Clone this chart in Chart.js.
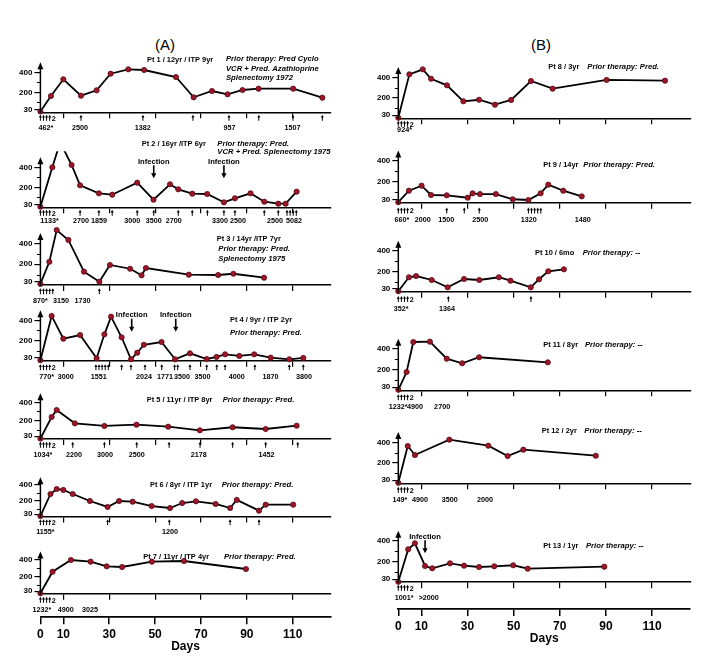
<!DOCTYPE html>
<html><head><meta charset="utf-8">
<script src="https://cdn.jsdelivr.net/npm/chart.js@4.4.0/dist/chart.umd.min.js"></script>
<style>
html,body{margin:0;padding:0;background:#fff;}
#wrap{position:relative;width:710px;height:670px;overflow:hidden;background:#fff;}
canvas{position:absolute;}
.hdr{position:absolute;width:60px;text-align:center;font:15px "Liberation Sans",Arial,sans-serif;color:#000;line-height:17px;}
</style></head><body>
<div id="wrap">
<div class="hdr" style="left:135px;top:36px">(A)</div>
<div class="hdr" style="left:511px;top:36px">(B)</div>
</div>
<script>
// ---------- shared ticks ----------
const yTickValues = [30, 200, 400];
const yMinorTicks = [100, 300];
const xTickDays = [10, 30, 50, 70, 90, 110];
const bottomTickDays = [0, 10, 30, 50, 70, 90, 110];

// ---------- Pt 1 ----------
const pt1Days   = [0,4.6,10,17.7,24.5,30.6,38.3,45.2,59.1,66.8,74.8,81.6,88.1,95.1,110.2,122.9];
const pt1Counts = [8,163,330,166,220,386,430,423,353,150,213,180,223,236,236,146];
const pt1Doses  = [17.7,44.7,66.5,82.2,95.2,110.1,122.9];
const pt1Groups = [[0,4,'2']];
const pt1Labels = [['462*',2.4],['2500',17.3],['1382',44.6],['957',82.4],['1507',109.9]];
const pt1Infections = [];
const pt1Title = ['Pt 1 / 12yr / ITP 9yr','Prior therapy: Pred Cyclo','VCR + Pred. Azathioprine','Splenectomy 1972'];

// ---------- Pt 2 ----------
const pt2Days   = [0,5.2,8.6,13.6,17.3,25.5,31.3,42.2,49.3,56.5,60.1,66.2,72.7,80,84.8,91.6,97.6,103.7,106.9,111.7];
const pt2Counts = [5,400,650,423,220,140,126,246,76,230,180,136,133,50,90,140,56,36,36,156];
const pt2Doses  = [17.3,25.5,31.3,42.2,49.4,60.1,66.2,72.8,80,84.8,97.6,103.7];
const pt2Groups = [[0,4,'2'],[107.5,4,'']];
const pt2Labels = [['1133*',4],['2700',17.7],['1859',25.5],['3000',40],['3500',49.4],['2700',58.1],['3300',78.3],['2500',86.1],['2500',102.3],['5082',110.6]];
const pt2Infections = [49.4, 80];
const pt2Title = ['Pt 2 / 16yr /ITP 6yr','Prior therapy: Pred.','VCR + Pred. Splenectomy 1975'];

// ---------- Pt 3 ----------
const pt3Days   = [0,3.9,7.1,12.2,19,25.7,30.3,39.1,44.1,46,64.7,77.5,84.1,97.5];
const pt3Counts = [10,223,527,432,128,32,192,156,93,163,99,96,108,70];
const pt3Doses  = [25.7];
const pt3Groups = [[0,5,'']];
const pt3Labels = [['870*',0],['3150',9],['1730',18.4]];
const pt3Infections = [];
const pt3Title = ['Pt 3 / 14yr /ITP 7yr','Prior therapy: Pred.','Splenectomy 1975'];

// ---------- Pt 4 ----------
const pt4Days   = [0,4.9,10,17.3,24.5,27.9,30.8,35.4,39.5,42.2,45.1,52.8,58.7,65.2,72.5,76.8,80.5,86.7,93.2,100.4,108.5,114.6];
const pt4Counts = [5,443,218,254,24,261,436,232,14,79,158,185,14,73,17,37,63,47,63,30,14,27];
const pt4Doses  = [35.4,39.5,45.6,52.9,65.2,72.5,76.9,80.5,93.5,108.5,114.6];
const pt4Groups = [[0,4,'2'],[24.2,5,''],[58.5,2,'']];
const pt4Labels = [['770*',2.7],['3000',11],['1551',25.4],['2024',45.2],['1771',54.3],['3500',61.7],['3500',70.7],['4000',85.6],['1870',100.3],['3800',114.9]];
const pt4Infections = [39.8, 59];
const pt4Title = ['Pt 4 / 9yr / ITP 2yr','Prior therapy: Pred.'];

// ---------- Pt 5 ----------
const pt5Days   = [0,4.9,7.1,15,27.9,41.9,55.7,69.5,83.8,98.2,111.7];
const pt5Counts = [5,240,316,171,142,156,134,95,128,109,145];
const pt5Doses  = [14.1,27.9,42,56.1,69.6,83.8,98.2,112.2];
const pt5Groups = [[0,4,'2']];
const pt5Labels = [['1034*',1.1],['2200',14.6],['3000',28.2],['2500',42],['2178',69],['1452',98.6]];
const pt5Infections = [];
const pt5Title = ['Pt 5 / 11yr / ITP 8yr','Prior therapy: Pred.'];

// ---------- Pt 6 ----------
const pt6Days   = [0,4.4,7.1,10,14.1,21.6,29.3,34.3,40.2,48.5,56.5,61.8,67.8,76.4,82.7,85.6,95.3,98.2,110.2];
const pt6Counts = [5,286,349,337,286,197,121,197,188,133,108,171,193,159,108,210,74,150,150];
const pt6Doses  = [29.3,56.2,82.7,95.3];
const pt6Groups = [[0,4,'2']];
const pt6Labels = [['1155*',2.2],['1200',56.5]];
const pt6Infections = [];
const pt6Title = ['Pt 6 / 8yr / ITP 1yr','Prior therapy: Pred.'];

// ---------- Pt 7 ----------
const pt7Days   = [0,5.3,13.3,21.9,28.9,35.6,48.6,62.6,89.6];
const pt7Counts = [5,261,400,380,325,317,380,388,293];
const pt7Doses  = [];
const pt7Groups = [[0,4,'2']];
const pt7Labels = [['1232*',0.7],['4900',11],['3025',21.6]];
const pt7Infections = [];
const pt7Title = ['Pt 7 / 11yr / ITP 4yr','Prior therapy: Pred.'];

// ---------- Pt 8 ----------
const pt8Days   = [0,4.8,10.6,14.2,21.1,28.2,35,41.9,48.9,57.5,66.9,90.3,115.6];
const pt8Counts = [5,429,478,386,322,166,181,133,179,364,289,374,367];
const pt8Doses  = [];
const pt8Groups = [[0,4,'2']];
const pt8Labels = [['924*',2.7]];
const pt8Infections = [];
const pt8Title = ['Pt 8 / 3yr','Prior therapy: Pred.'];

// ---------- Pt 9 ----------
const pt9Days   = [0,4.6,10.1,14.2,21,30.1,32.2,35.4,42.3,49.6,56.4,61.7,65,71.5,79.5];
const pt9Counts = [5,115,163,74,71,48,90,83,83,33,26,90,173,115,61];
const pt9Doses  = [21,28.6,35.1];
const pt9Groups = [[0,4,'2'],[56.4,5,'']];
const pt9Labels = [['660*',1.6],['2000',10.6],['1500',20.8],['2500',35.5],['1320',56.5],['1480',80]];
const pt9Infections = [];
const pt9Title = ['Pt 9 / 14yr','Prior therapy: Pred.'];

// ---------- Pt 10 ----------
const pt10Days   = [0,4.6,7.7,14.5,21.4,28.5,35.1,43.6,48.6,57.4,61,65,71.8];
const pt10Counts = [5,142,154,115,43,125,115,142,108,43,122,201,220];
const pt10Doses  = [21.7,57.5];
const pt10Groups = [[0,4,'2']];
const pt10Labels = [['352*',1.2],['1364',21.1]];
const pt10Infections = [];
const pt10Title = ['Pt 10 / 6mo','Prior therapy: --'];

// ---------- Pt 11 ----------
const pt11Days   = [0,3.6,6.5,13.7,21,27.7,35,64.8];
const pt11Counts = [5,177,468,471,306,262,320,271];
const pt11Doses  = [];
const pt11Groups = [[0,4,'2']];
const pt11Labels = [['1232*',-0.1],['4900',7.2],['2700',19]];
const pt11Infections = [];
const pt11Title = ['Pt 11 / 8yr','Prior therapy: --'];

// ---------- Pt 12 ----------
const pt12Days   = [0,4.1,7.2,22.1,39,47.4,54.2,85.6];
const pt12Counts = [5,364,276,426,367,266,328,269];
const pt12Doses  = [];
const pt12Groups = [[0,4,'2']];
const pt12Labels = [['149*',0.7],['4900',9.4],['3500',22.3],['2000',37.6]];
const pt12Infections = [];
const pt12Title = ['Pt 12 / 2yr','Prior therapy: --'];

// ---------- Pt 13 ----------
const pt13Days   = [0,4.3,7.2,11.6,14.7,22.4,28.5,35,41.6,49.8,56.1,89.3];
const pt13Counts = [5,320,378,158,136,184,161,148,155,165,132,151];
const pt13Doses  = [];
const pt13Groups = [[0,4,'2']];
const pt13Labels = [['1001*',2.5],['>2000',13.2]];
const pt13Infections = [11.6];
const pt13Title = ['Pt 13 / 1yr','Prior therapy: --'];

// ---------- layout (page pixels) ----------
const COLS = {
  A: {left: 0,   width: 340, axisX: 40.4,  pxPerDay: 2.294},
  B: {left: 355, width: 355, axisX: 398.3, pxPerDay: 2.307}
};
const X_MAX = 126.5, Y_TOP = 560, Y_ARROW = 500, PAD_TOP = 24, X_BOX = 26;

const panels = [
  {col:'A', p0:112.3, p400:72.3,  labelDy:15,   d:[pt1Days,pt1Counts,pt1Doses,pt1Groups,pt1Labels,pt1Infections,pt1Title], titleAt:[[147,60],[226,59],[226,68.3],[226,77.7]]},
  {col:'A', p0:207.3, p400:167.3, labelDy:13.5, d:[pt2Days,pt2Counts,pt2Doses,pt2Groups,pt2Labels,pt2Infections,pt2Title], titleAt:[[141.7,143.3],[217.3,143.3],[217.3,151.7]]},
  {col:'A', p0:285,   p400:243.3, labelDy:15.7, d:[pt3Days,pt3Counts,pt3Doses,pt3Groups,pt3Labels,pt3Infections,pt3Title], titleAt:[[216.7,238.3],[218.3,249],[218.3,258.3]]},
  {col:'A', p0:360.7, p400:320.3, labelDy:16,   d:[pt4Days,pt4Counts,pt4Doses,pt4Groups,pt4Labels,pt4Infections,pt4Title], titleAt:[[230,320],[230,332.3]]},
  {col:'A', p0:439,   p400:402.3, labelDy:15.3, d:[pt5Days,pt5Counts,pt5Doses,pt5Groups,pt5Labels,pt5Infections,pt5Title], titleAt:[[146.7,400.2],[222.7,400.2]]},
  {col:'A', p0:516.5, p400:485,   labelDy:15.2, d:[pt6Days,pt6Counts,pt6Doses,pt6Groups,pt6Labels,pt6Infections,pt6Title], titleAt:[[150,484.5],[221.7,484.5]]},
  {col:'A', p0:593.7, p400:560,   labelDy:15.6, d:[pt7Days,pt7Counts,pt7Doses,pt7Groups,pt7Labels,pt7Infections,pt7Title], titleAt:[[143.3,556.3],[224,556.3]]},
  {col:'B', p0:118.3, p400:77.3,  labelDy:11,   d:[pt8Days,pt8Counts,pt8Doses,pt8Groups,pt8Labels,pt8Infections,pt8Title], titleAt:[[548.3,66.7],[587.3,66.7]]},
  {col:'B', p0:202.7, p400:161,   labelDy:17.3, d:[pt9Days,pt9Counts,pt9Doses,pt9Groups,pt9Labels,pt9Infections,pt9Title], titleAt:[[543.3,165],[583.3,165]]},
  {col:'B', p0:291.7, p400:251,   labelDy:16.7, d:[pt10Days,pt10Counts,pt10Doses,pt10Groups,pt10Labels,pt10Infections,pt10Title], titleAt:[[535,252.3],[582.7,252.3]]},
  {col:'B', p0:390.3, p400:349,   labelDy:16.4, d:[pt11Days,pt11Counts,pt11Doses,pt11Groups,pt11Labels,pt11Infections,pt11Title], titleAt:[[543.3,345],[585,345]]},
  {col:'B', p0:483.3, p400:442.3, labelDy:16,   d:[pt12Days,pt12Counts,pt12Doses,pt12Groups,pt12Labels,pt12Infections,pt12Title], titleAt:[[541.7,430.7],[584.3,430.7]]},
  {col:'B', p0:582.3, p400:541,   labelDy:15,   d:[pt13Days,pt13Counts,pt13Doses,pt13Groups,pt13Labels,pt13Infections,pt13Title], titleAt:[[543.3,546],[586,546]]}
];

Chart.defaults.font.family = '"Liberation Sans", Arial, Helvetica, sans-serif';
Chart.defaults.color = '#000';

const wrap = document.getElementById('wrap');
const FONT_B = 'bold 8px "Liberation Sans", Arial, sans-serif';
const FONT_I = 'italic bold 8px "Liberation Sans", Arial, sans-serif';

function drawText(ctx, s, x, y, font, align, sx) {
  ctx.save();
  ctx.font = font; ctx.textAlign = align; ctx.textBaseline = 'middle';
  ctx.translate(x, y); ctx.scale(sx, 1); ctx.fillText(s, 0, 0);
  ctx.restore();
}
function upArrow(ctx, x, tip, len) {
  ctx.lineWidth = 1;
  ctx.beginPath(); ctx.moveTo(x, tip + 1.5); ctx.lineTo(x, tip + len); ctx.stroke();
  ctx.beginPath(); ctx.moveTo(x, tip); ctx.lineTo(x - 1.5, tip + 2.8); ctx.lineTo(x + 1.5, tip + 2.8); ctx.closePath(); ctx.fill();
}
function downArrow(ctx, x, y0, tip) {
  ctx.lineWidth = 1.6;
  ctx.beginPath(); ctx.moveTo(x, y0); ctx.lineTo(x, tip - 3); ctx.stroke();
  ctx.beginPath(); ctx.moveTo(x, tip); ctx.lineTo(x - 2.6, tip - 5); ctx.lineTo(x + 2.6, tip - 5); ctx.closePath(); ctx.fill();
}

function makeDecor(p, canvasLeft, canvasTop) {
  const [days, counts, doses, groups, labels, infections, title] = p.d;
  return {
    id: 'decor',
    afterDraw(chart) {
      const ctx = chart.ctx, xs = chart.scales.x, ys = chart.scales.y;
      const X = d => xs.getPixelForValue(d), Y = v => ys.getPixelForValue(v);
      const base = Y(0), ax = chart.chartArea.left;
      ctx.save();
      ctx.fillStyle = '#000'; ctx.strokeStyle = '#000';
      // y axis with arrow head
      const tip = Y(Y_ARROW);
      ctx.lineWidth = 1.5;
      ctx.beginPath(); ctx.moveTo(ax, base + 0.8); ctx.lineTo(ax, tip + 5); ctx.stroke();
      ctx.beginPath(); ctx.moveTo(ax, tip); ctx.lineTo(ax - 3, tip + 7); ctx.lineTo(ax + 3, tip + 7); ctx.closePath(); ctx.fill();
      ctx.lineWidth = 1;
      yMinorTicks.forEach(v => { const y = Math.round(Y(v)) + 0.5; ctx.beginPath(); ctx.moveTo(ax - 3.5, y); ctx.lineTo(ax, y); ctx.stroke(); });
      // dose arrows
      const aTip = base + Math.max(2.5, p.labelDy - 12.5);
      doses.forEach(d => upArrow(ctx, X(d), aTip, 6));
      groups.forEach(([d, n, suf]) => {
        const x0 = X(d);
        for (let k = 0; k < n; k++) upArrow(ctx, x0 + k * 3.1, aTip, 6);
        if (suf) drawText(ctx, suf, x0 + n * 3.1 - 1, aTip + 3.5, FONT_B, 'left', 0.9);
      });
      labels.forEach(([t, d]) => drawText(ctx, t, X(d), base + p.labelDy, FONT_B, 'center', 0.9));
      infections.forEach(d => {
        drawText(ctx, 'Infection', X(d), base - 46, FONT_B, 'center', 0.95);
        downArrow(ctx, X(d), base - 42, base - 29);
      });
      title.forEach((t, i) => {
        const [px, py] = p.titleAt[i];
        drawText(ctx, t, px - canvasLeft, py - canvasTop, i === 0 ? FONT_B : FONT_I, 'left', i === 0 ? 0.93 : 0.96);
      });
      ctx.restore();
    }
  };
}

function buildPanel(p) {
  const c = COLS[p.col];
  const [days, counts] = p.d;
  const ppu = (p.p0 - p.p400) / 400;
  const chartH = Y_TOP * ppu;
  const chartTopPage = p.p0 - chartH;
  const canvasTop = Math.floor(chartTopPage - PAD_TOP);
  const padTop = chartTopPage - canvasTop;
  const height = Math.ceil(padTop + chartH + X_BOX + 1);
  const padBottom = height - padTop - chartH - X_BOX;
  const chartLeft = c.axisX - c.left;
  const padRight = c.width - (chartLeft + X_MAX * c.pxPerDay);
  const cv = document.createElement('canvas');
  cv.width = c.width; cv.height = height;
  cv.style.left = c.left + 'px'; cv.style.top = canvasTop + 'px';
  cv.style.width = c.width + 'px'; cv.style.height = height + 'px';
  wrap.appendChild(cv);
  new Chart(cv, {
    type: 'line',
    data: { datasets: [{
      data: days.map((d, i) => ({x: d, y: counts[i]})),
      borderColor: '#000', borderWidth: 1.8, tension: 0,
      pointRadius: 2.6, pointBackgroundColor: '#9c1628', pointBorderColor: '#560a14', pointBorderWidth: 0.8,
      clip: {left: 8, right: 8, top: 0, bottom: 8}
    }]},
    options: {
      responsive: false, animation: false, events: [],
      layout: {autoPadding: false, padding: {left: 0, right: padRight, top: padTop, bottom: padBottom}},
      plugins: {legend: {display: false}, tooltip: {enabled: false}},
      scales: {
        x: {type: 'linear', min: 0, max: X_MAX,
            afterBuildTicks: s => { s.ticks = xTickDays.map(v => ({value: v})); },
            afterFit: s => { s.height = X_BOX; },
            ticks: {display: false},
            grid: {drawOnChartArea: false, drawTicks: true, tickLength: 6, color: '#000', lineWidth: 1.2},
            border: {display: true, color: '#000', width: 1.6}},
        y: {type: 'linear', min: 0, max: Y_TOP,
            afterBuildTicks: s => { s.ticks = yTickValues.map(v => ({value: v})); },
            afterFit: s => { s.width = chartLeft; },
            ticks: {font: {size: 8, weight: 'bold'}, color: '#000', padding: 2, autoSkip: false, callback: v => String(v)},
            grid: {drawOnChartArea: false, drawTicks: true, tickLength: 6, color: '#000', lineWidth: 1.2},
            border: {display: false}}
      }
    },
    plugins: [makeDecor(p, c.left, canvasTop)]
  });
}

function buildDaysAxis(col, axisY) {
  const c = COLS[col];
  const canvasTop = Math.floor(axisY) - 20;
  const boxH = 42;
  const height = Math.ceil(axisY - canvasTop + boxH);
  const padBottom = height - (axisY - canvasTop) - boxH;
  const chartLeft = c.axisX - c.left;
  const padRight = c.width - (chartLeft + X_MAX * c.pxPerDay);
  const cv = document.createElement('canvas');
  cv.width = c.width; cv.height = height;
  cv.style.left = c.left + 'px'; cv.style.top = canvasTop + 'px';
  cv.style.width = c.width + 'px'; cv.style.height = height + 'px';
  wrap.appendChild(cv);
  new Chart(cv, {
    type: 'scatter',
    data: {datasets: []},
    options: {
      responsive: false, animation: false, events: [],
      layout: {autoPadding: false, padding: {left: chartLeft, right: padRight, top: 0, bottom: padBottom}},
      plugins: {legend: {display: false}, tooltip: {enabled: false}},
      scales: {
        x: {type: 'linear', min: 0, max: X_MAX,
            afterBuildTicks: s => { s.ticks = bottomTickDays.map(v => ({value: v})); },
            afterFit: s => { s.height = boxH; },
            ticks: {font: {size: 12, weight: 'bold'}, color: '#000', padding: 3, autoSkip: false, maxRotation: 0, callback: v => String(v)},
            grid: {drawOnChartArea: false, drawTicks: true, tickLength: 7, color: '#000', lineWidth: 1.5},
            border: {display: true, color: '#000', width: 1.8},
            title: {display: true, text: 'Days', font: {size: 12, weight: 'bold'}, color: '#000', padding: {top: 0, bottom: 5}}},
        y: {display: false, min: 0, max: 1}
      }
    }
  });
}

panels.forEach(buildPanel);
buildDaysAxis('A', 617.3);
buildDaysAxis('B', 609);
</script>
</body></html>
